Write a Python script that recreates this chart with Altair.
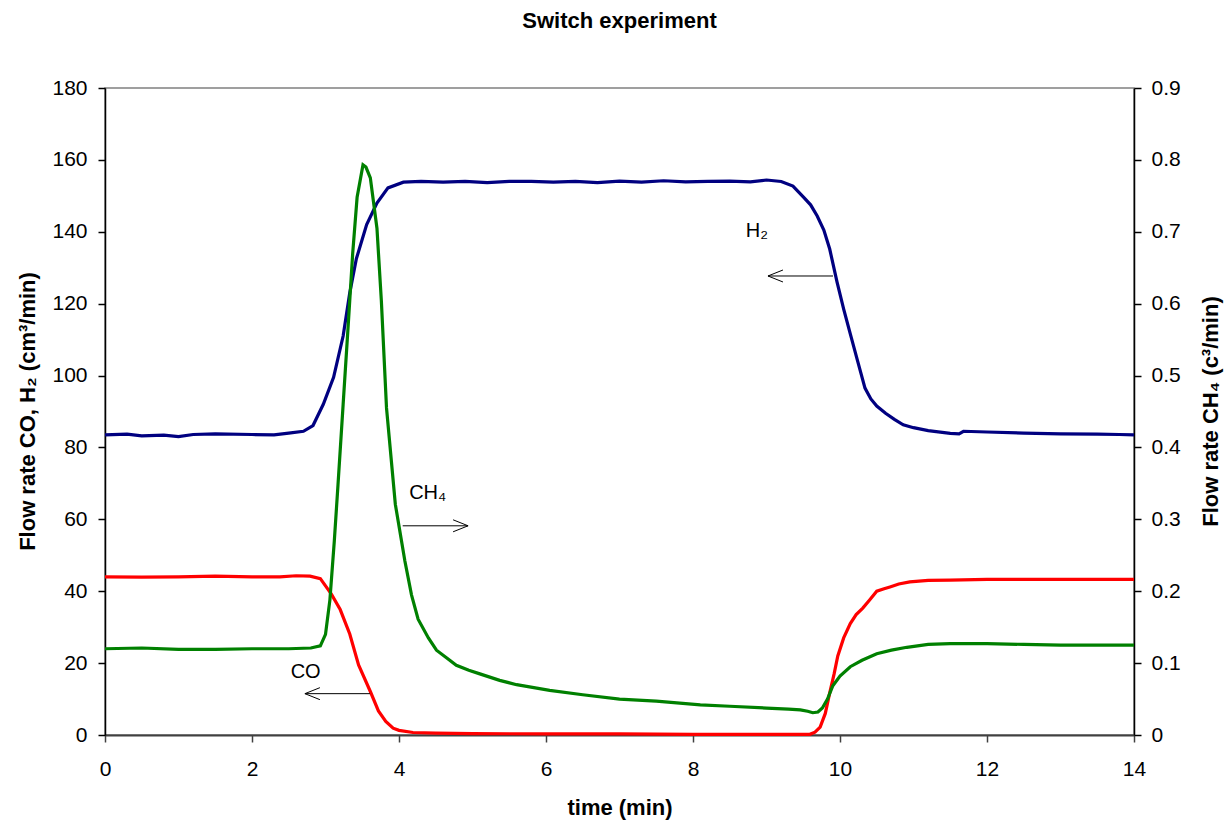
import altair as alt
import pandas as pd

# ---------------- data ----------------
h2_t = [0, 0.3, 0.5, 0.8, 1.0, 1.2, 1.5, 2.0, 2.3, 2.5, 2.7, 2.83, 2.97, 3.11, 3.24, 3.33, 3.42,
        3.56, 3.70, 3.85, 4.06, 4.3, 4.6, 4.9, 5.2, 5.5, 5.8, 6.1, 6.4, 6.7, 7.0, 7.3, 7.6,
        7.9, 8.2, 8.5, 8.78, 9.0, 9.2, 9.36, 9.50, 9.60, 9.69, 9.78, 9.86, 9.96, 10.05, 10.14,
        10.24, 10.34, 10.42, 10.50, 10.62, 10.74, 10.86, 11.0, 11.2, 11.5, 11.62, 11.68, 12.0,
        12.5, 13.0, 13.5, 13.8, 14.0]
h2_v = [83.5, 83.7, 83.2, 83.4, 83.0, 83.6, 83.8, 83.6, 83.5, 84.0, 84.5, 86.1, 92.0, 99.5, 111.0,
        123.0, 132.5, 142.0, 148.0, 152.2, 153.8, 154.0, 153.8, 154.0, 153.7, 154.0, 154.0,
        153.8, 154.0, 153.7, 154.1, 153.8, 154.2, 153.9, 154.0, 154.1, 153.9, 154.4, 154.0,
        152.7, 149.7, 147.5, 144.4, 140.5, 135.2, 126.0, 118.5, 111.6, 104.0, 96.5, 93.5,
        91.5, 89.5, 87.8, 86.3, 85.5, 84.7, 83.9, 83.8, 84.5, 84.3, 84.0, 83.8, 83.7, 83.6, 83.5]

co_t = [0, 0.5, 1.0, 1.5, 2.0, 2.38, 2.6, 2.79, 2.93, 3.08, 3.20, 3.33, 3.45, 3.61, 3.72, 3.82,
        3.92, 4.0, 4.19, 4.5, 5.0, 6.0, 7.0, 8.0, 9.0, 9.59, 9.66, 9.73, 9.80, 9.86, 9.92, 9.97,
        10.05, 10.14, 10.22, 10.31, 10.40, 10.50, 10.60, 10.68, 10.80, 10.95, 11.2, 11.5, 12.0,
        13.0, 14.0]
co_v = [44.0, 43.9, 44.0, 44.2, 44.0, 44.0, 44.3, 44.2, 43.5, 39.2, 34.9, 28.1, 19.5, 12.1, 6.7,
        3.8, 1.9, 1.3, 0.7, 0.5, 0.4, 0.3, 0.3, 0.2, 0.2, 0.2, 0.8, 2.2, 6.0, 11.7, 17.0, 22.0,
        27.0, 31.0, 33.5, 35.3, 37.5, 40.0, 40.7, 41.2, 42.0, 42.6, 43.0, 43.1, 43.3, 43.3, 43.3]

ch4_t = [0, 0.5, 1.0, 1.5, 2.0, 2.5, 2.8, 2.93, 3.0, 3.06, 3.12, 3.17, 3.24, 3.31, 3.37, 3.43,
         3.51, 3.55, 3.61, 3.70, 3.76, 3.83, 3.95, 4.08, 4.17, 4.26, 4.40, 4.51, 4.65, 4.78, 4.95,
         5.10, 5.37, 5.60, 6.05, 6.50, 7.0, 7.5, 8.1, 8.5, 9.0, 9.3, 9.46, 9.56, 9.63, 9.70, 9.76,
         9.83, 9.90, 10.0, 10.14, 10.30, 10.50, 10.70, 10.91, 11.2, 11.5, 12.0, 12.5, 13.0, 14.0]
ch4_v = [0.120, 0.121, 0.119, 0.119, 0.120, 0.120, 0.121, 0.124, 0.140, 0.188, 0.270, 0.348, 0.460,
         0.572, 0.670, 0.748, 0.793, 0.790, 0.775, 0.705, 0.604, 0.455, 0.321, 0.242, 0.195,
         0.161, 0.135, 0.118, 0.107, 0.097, 0.090, 0.085, 0.076, 0.070, 0.062, 0.056, 0.050,
         0.047, 0.042, 0.040, 0.0375, 0.036, 0.035, 0.033, 0.031, 0.032, 0.0375, 0.050, 0.068,
         0.082, 0.095, 0.104, 0.113, 0.118, 0.122, 0.126, 0.127, 0.127, 0.126, 0.125, 0.125]

# annotations (label position, arrow tail -> tip, all in left-axis units)
ann_label = ["H₂", "CH₄", "CO"]
ann_label_t = [8.87, 4.39, 2.73]
ann_label_v = [140.2, 67.3, 17.5]
arrow_tail_t = [9.905, 4.05, 3.605]
arrow_tip_t = [9.02, 4.94, 2.72]
arrow_v = [127.7, 58.2, 11.5]
arrow_dir = ["left", "right", "left"]

x_ticks = [0, 2, 4, 6, 8, 10, 12, 14]
left_ticks = [0, 20, 40, 60, 80, 100, 120, 140, 160, 180]
right_ticks = [0, 0.1, 0.2, 0.3, 0.4, 0.5, 0.6, 0.7, 0.8, 0.9]

FONT = "Liberation Sans"

h2_df = pd.DataFrame({"t": h2_t, "v": h2_v})
co_df = pd.DataFrame({"t": co_t, "v": co_v})
ch4_df = pd.DataFrame({"t": ch4_t, "v": ch4_v})
lab_df = pd.DataFrame({"t": ann_label_t, "v": ann_label_v, "label": ann_label})
arr_df = pd.DataFrame({"t": arrow_tail_t, "t2": arrow_tip_t, "v": arrow_v, "dir": arrow_dir})

x_scale = alt.Scale(domain=[0, 14], nice=False, zero=False)
x_axis = alt.Axis(
    values=x_ticks, format="d", title="time (min)", grid=False, labelFlush=False,
    domainColor="#404040", domainWidth=2, tickColor="#404040", tickWidth=1.5, tickSize=7,
    labelFont=FONT, labelFontSize=21, labelColor="black", labelPadding=16,
    titleFont=FONT, titleFontSize=22, titleFontWeight="bold", titleColor="black",
    titleBaseline="alphabetic", titleY=79,
)
yl_scale = alt.Scale(domain=[0, 180], nice=False)
yl_axis = alt.Axis(
    values=left_ticks, title="Flow rate CO, H₂ (cm³/min)", grid=False, orient="left",
    domainColor="black", domainWidth=1.5, tickColor="black", tickWidth=1.5, tickSize=7,
    labelFont=FONT, labelFontSize=21, labelColor="black", labelPadding=11,
    titleFont=FONT, titleFontSize=22, titleFontWeight="bold", titleColor="black",
    titleAngle=-90, titleBaseline="bottom", titleX=-66, titleY=323, titleAlign="center",
)
yr_scale = alt.Scale(domain=[0, 0.9], nice=False)
yr_axis = alt.Axis(
    values=right_ticks, title="Flow rate CH₄ (c³/min)", grid=False, orient="right",
    domainColor="black", domainWidth=1.5, tickColor="black", tickWidth=1.5, tickSize=7,
    labelFont=FONT, labelFontSize=21, labelColor="black", labelPadding=10,
    labelExpr="datum.value == 0 ? '0' : format(datum.value, '.1f')",
    titleFont=FONT, titleFontSize=22, titleFontWeight="bold", titleColor="black",
    titleAngle=-90, titleBaseline="bottom", titleX=88, titleY=323, titleAlign="center",
)

h2_line = alt.Chart(h2_df).mark_line(color="#000080", strokeWidth=3.2).encode(
    x=alt.X("t:Q", scale=x_scale, axis=x_axis),
    y=alt.Y("v:Q", scale=yl_scale, axis=yl_axis),
)
co_line = alt.Chart(co_df).mark_line(color="#FF0000", strokeWidth=3.2).encode(
    x=alt.X("t:Q", scale=x_scale),
    y=alt.Y("v:Q", scale=yl_scale),
)
shafts = alt.Chart(arr_df).mark_rule(color="black", strokeWidth=1).encode(
    x=alt.X("t:Q", scale=x_scale),
    x2="t2:Q",
    y=alt.Y("v:Q", scale=yl_scale),
)
head_left = alt.Chart(arr_df).transform_filter("datum.dir == 'left'").mark_point(
    shape="M 2.5 -1 L 0 0 L 2.5 1", filled=False, color="black", strokeWidth=1, size=144, opacity=1
).encode(
    x=alt.X("t2:Q", scale=x_scale),
    y=alt.Y("v:Q", scale=yl_scale),
)
head_right = alt.Chart(arr_df).transform_filter("datum.dir == 'right'").mark_point(
    shape="M -2.5 -1 L 0 0 L -2.5 1", filled=False, color="black", strokeWidth=1, size=144, opacity=1
).encode(
    x=alt.X("t2:Q", scale=x_scale),
    y=alt.Y("v:Q", scale=yl_scale),
)
labels = alt.Chart(lab_df).mark_text(font=FONT, fontSize=20, color="black").encode(
    x=alt.X("t:Q", scale=x_scale),
    y=alt.Y("v:Q", scale=yl_scale),
    text="label:N",
)

left = alt.layer(h2_line, co_line, shafts, head_left, head_right, labels)

right = alt.Chart(ch4_df).mark_line(color="#008000", strokeWidth=3.2).encode(
    x=alt.X("t:Q", scale=x_scale),
    y=alt.Y("v:Q", scale=yr_scale, axis=yr_axis),
)

chart = alt.layer(left, right).resolve_scale(y="independent").properties(
    width=1029,
    height=647,
    title=alt.TitleParams(
        "Switch experiment", font=FONT, fontSize=22, fontWeight="bold", color="black",
        anchor="middle", baseline="alphabetic", offset=27,
    ),
    padding={"left": 105, "top": 88, "right": 92, "bottom": 85},
    autosize=alt.AutoSizeParams(type="none"),
).configure_view(stroke="#808080", strokeWidth=1.5)

chart.save("out.html", embed_options={"renderer": "svg", "actions": False})
